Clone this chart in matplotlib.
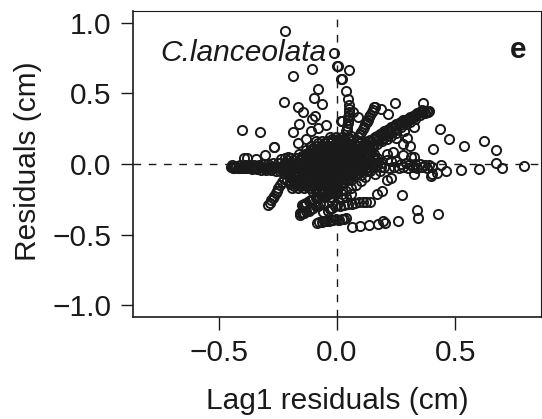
import matplotlib
matplotlib.use("Agg")
import matplotlib.pyplot as plt

plt.rcParams['font.family'] = ['Liberation Sans', 'DejaVu Sans']

# (lag1 residual, residual), one list per visible cluster
upper_left = [(-.218,.944),(-.014,.786),(.001,.692),(.015,.60),(-.105,.671),(-.186,.62),(-.081,.533),(-.098,.47),
    (-.062,.423),(-.223,.441),(-.167,.404),(-.145,.368),(-.091,.34),(-.106,.317),(-.162,.282),(-.188,.228),
    (-.046,.275),(-.079,.258),(-.11,.235),(-.4,.239),(-.324,.228),(-.268,.122),(-.268,.118),(-.304,.063),
    (-.163,.146),(-.13,.174),(-.395,.044),(-.382,.044),(-.342,.033),(-.238,.035),(-.206,.051),(.015,.305)]
upper_right = [(.051,.667),(.006,.695),(.021,.599),(.037,.519),(.045,.46),(.052,.415),(.069,.368),(.09,.331),
    (.019,.305),(.16,.404),(.186,.392),(.217,.354),(.247,.434),(.362,.434),(.39,.373),(.385,.37),(.436,.244),
    (.474,.174),(.536,.125),(.623,.164),(.673,.101),(.407,.103),(.308,.125),(.297,.183),(.278,.14),(.327,.263),
    (.284,.232),(.249,.185),(.238,.087),(.21,.07),(.28,.063),(.327,.051),(.312,.051)]
lower_right = [(.79,-.014),(.696,-.028),(.67,.005),(.601,-.035),(.522,-.045),(.462,-.049),(.439,-.005),(.424,-.061),
    (.397,-.085),(.403,-.07),(.324,-.07),(.275,-.218),(.188,-.19),(.167,-.211),(.141,-.268),(.213,-.113),
    (.228,-.099),(.337,-.326),(.342,-.382),(.426,-.357),(.258,-.401),(.203,-.415),(.196,-.401),(.172,-.423),
    (.134,-.432),(.097,-.437),(.065,-.444),(.04,-.385),(.03,-.388),(.02,-.39),(.007,-.393),(.122,-.27),
    (.11,-.272),(.093,-.272),(.076,-.275),(.062,-.28),(.047,-.285),(.03,-.29),(.014,-.295)]
main_diagonal = [(.12,.15),(.13,.12),(.14,.17),(.15,.14),(.16,.19),(.17,.16),(.18,.21),(.19,.18),(.2,.23),(.21,.2),
    (.22,.25),(.23,.22),(.24,.27),(.25,.24),(.26,.29),(.27,.26),(.28,.31),(.29,.28),(.3,.32),(.31,.3),(.32,.34),
    (.33,.32),(.34,.36),(.35,.35),(.36,.38),(.37,.36),(.38,.37),(.125,.135),(.145,.155),(.165,.175),(.185,.195),
    (.205,.215),(.225,.235),(.245,.255),(.265,.275),(.285,.295),(.305,.31),(.325,.33),(.345,.35),(.365,.37),
    (.13,.16),(.15,.18),(.17,.2),(.19,.22),(.21,.24),(.23,.26),(.25,.28),(.27,.3),(.29,.31),(.31,.33),(.33,.35),
    (.35,.37),(.15,.12),(.17,.14),(.19,.16),(.21,.18),(.23,.2),(.25,.22)]
left_band = [(-.45,-.02),(-.44,-.03),(-.43,-.015),(-.42,-.03),(-.41,-.01),(-.4,-.03),(-.39,-.01),(-.38,-.03),
    (-.37,-.005),(-.36,-.035),(-.35,-.005),(-.34,-.035),(-.33,-.005),(-.32,-.04),(-.31,.0),(-.3,-.04),(-.29,.0),
    (-.28,-.045),(-.27,.005),(-.26,-.05),(-.25,.005),(-.24,-.05),(-.445,-.01),(-.435,-.025),(-.425,-.02),
    (-.415,-.025),(-.405,-.02),(-.395,-.025),(-.385,-.02),(-.375,-.02),(-.365,-.025),(-.355,-.02),(-.345,-.02),
    (-.335,-.025),(-.325,-.02),(-.315,-.02),(-.305,-.025),(-.295,-.02),(-.285,-.02),(-.275,-.025),(-.265,-.02),
    (-.255,-.02),(-.245,-.025)]
core_top = [(-.03,.19),(-.005,.19),(.02,.19),(.045,.19),(.06,.2),(-.09,.16),(-.065,.16),(-.04,.16),(-.015,.16),
    (.01,.16),(.035,.16),(.06,.16),(.085,.16),(-.11,.13),(-.085,.13),(-.06,.13),(-.035,.13),(-.01,.13),(.015,.13),
    (.04,.13),(.065,.13),(.09,.13),(.115,.13),(-.13,.10),(-.105,.10),(-.08,.10),(-.055,.10),(-.03,.10),(-.005,.10),
    (.02,.10),(.045,.10),(.07,.10),(.095,.10),(.12,.10),(.14,.10),(-.16,.07),(-.135,.07),(-.11,.07),(-.085,.07),
    (-.06,.07),(-.035,.07),(-.01,.07),(.015,.07),(.04,.07),(.065,.07),(.09,.07),(.115,.07),(.14,.07),(.155,.07)]
core_middle = [(-.22,.04),(-.195,.04),(-.17,.04),(-.145,.04),(-.12,.04),(-.095,.04),(-.07,.04),(-.045,.04),(-.02,.04),
    (.005,.04),(.03,.04),(.055,.04),(.08,.04),(.105,.04),(.13,.04),(.155,.04),(.17,.04),(-.24,.01),(-.215,.01),
    (-.19,.01),(-.165,.01),(-.14,.01),(-.115,.01),(-.09,.01),(-.065,.01),(-.04,.01),(-.015,.01),(.01,.01),(.035,.01),
    (.06,.01),(.085,.01),(.11,.01),(.135,.01),(.16,.01),(.185,.01),(-.24,-.02),(-.215,-.02),(-.19,-.02),(-.165,-.02),
    (-.14,-.02),(-.115,-.02),(-.09,-.02),(-.065,-.02),(-.04,-.02),(-.015,-.02),(.01,-.02),(.035,-.02),(.06,-.02),
    (.085,-.02),(.11,-.02),(.135,-.02),(.16,-.02),(.185,-.02),(.2,-.02),(-.22,-.05),(-.195,-.05),(-.17,-.05),
    (-.145,-.05),(-.12,-.05),(-.095,-.05),(-.07,-.05),(-.045,-.05),(-.02,-.05),(.005,-.05),(.03,-.05),(.055,-.05),
    (.08,-.05),(.105,-.05),(.13,-.05),(.14,-.05)]
core_bottom = [(-.2,-.08),(-.175,-.08),(-.15,-.08),(-.125,-.08),(-.1,-.08),(-.075,-.08),(-.05,-.08),(-.025,-.08),(0,-.08),
    (.025,-.08),(.05,-.08),(.075,-.08),(.1,-.08),(-.21,-.11),(-.185,-.11),(-.16,-.11),(-.135,-.11),(-.11,-.11),
    (-.085,-.11),(-.06,-.11),(-.035,-.11),(-.01,-.11),(.015,-.11),(.04,-.11),(.06,-.11),(-.2,-.14),(-.175,-.14),
    (-.15,-.14),(-.125,-.14),(-.1,-.14),(-.075,-.14),(-.05,-.14),(-.025,-.14),(0,-.14),(.025,-.14),(-.19,-.17),
    (-.165,-.17),(-.14,-.17),(-.115,-.17),(-.09,-.17),(-.065,-.17),(-.04,-.17),(-.015,-.17),(0,-.17),(-.1,-.2),
    (-.075,-.2),(-.05,-.2),(-.025,-.2),(0,-.2),(-.08,-.23),(-.055,-.23),(-.03,-.23),(-.02,-.23)]
core_fill_top = [(-.02,.175),(.005,.175),(.03,.175),(.055,.175),(-.08,.145),(-.055,.145),(-.03,.145),(-.005,.145),
    (.02,.145),(.045,.145),(.07,.145),(.095,.145),(-.1,.115),(-.075,.115),(-.05,.115),(-.025,.115),(0,.115),
    (.025,.115),(.05,.115),(.075,.115),(.1,.115),(.125,.115),(-.12,.085),(-.095,.085),(-.07,.085),(-.045,.085),
    (-.02,.085),(.005,.085),(.03,.085),(.055,.085),(.08,.085),(.105,.085),(.13,.085),(-.15,.055),(-.125,.055),
    (-.1,.055),(-.075,.055),(-.05,.055),(-.025,.055),(0,.055),(.025,.055),(.05,.055),(.075,.055),(.1,.055),
    (.125,.055),(.15,.055),(-.21,.025),(-.185,.025),(-.16,.025),(-.135,.025),(-.11,.025),(-.085,.025),(-.06,.025),
    (-.035,.025),(-.01,.025),(.015,.025),(.04,.025),(.065,.025),(.09,.025),(.115,.025),(.14,.025),(.165,.025)]
core_fill_low = [(-.23,-.005),(-.205,-.005),(-.18,-.005),(-.155,-.005),(-.13,-.005),(-.105,-.005),(-.08,-.005),
    (-.055,-.005),(-.03,-.005),(-.005,-.005),(.02,-.005),(.045,-.005),(.07,-.005),(.095,-.005),(.12,-.005),
    (.145,-.005),(.17,-.005),(-.23,-.035),(-.205,-.035),(-.18,-.035),(-.155,-.035),(-.13,-.035),(-.105,-.035),
    (-.08,-.035),(-.055,-.035),(-.03,-.035),(-.005,-.035),(.02,-.035),(.045,-.035),(.07,-.035),(.095,-.035),
    (.12,-.035),(-.21,-.065),(-.185,-.065),(-.16,-.065),(-.135,-.065),(-.11,-.065),(-.085,-.065),(-.06,-.065),
    (-.035,-.065),(-.01,-.065),(.015,-.065),(.04,-.065),(.065,-.065),(.09,-.065),(-.195,-.095),(-.17,-.095),
    (-.145,-.095),(-.12,-.095),(-.095,-.095),(-.07,-.095),(-.045,-.095),(-.02,-.095),(.005,-.095),(.03,-.095),
    (.05,-.095),(-.2,-.125),(-.175,-.125),(-.15,-.125),(-.125,-.125),(-.1,-.125),(-.075,-.125),(-.05,-.125),
    (-.025,-.125),(0,-.125),(.02,-.125),(-.18,-.155),(-.155,-.155),(-.13,-.155),(-.105,-.155),(-.08,-.155),
    (-.055,-.155),(-.03,-.155),(-.005,-.155),(-.09,-.185),(-.065,-.185),(-.04,-.185),(-.015,-.185),(-.06,-.215),
    (-.035,-.215),(-.01,-.215)]
right_band = [(.21,.03),(.22,-.03),(.23,.02),(.24,-.02),(.25,.02),(.26,-.03),(.27,.0),(.28,-.02),(.29,.01),(.3,-.03),
    (.31,.0),(.32,-.02),(.33,.0),(.34,-.03),(.35,.0),(.36,-.02),(.37,-.01),(.38,-.03),(.39,-.01),(.4,-.02),
    (.16,-.07),(.18,-.05),(.12,-.09),(.1,-.12),(.08,-.15),(.06,-.17),(.04,-.19),(.02,-.21)]
strand_up_a = [(.04,.23),(.042,.25),(.044,.27),(.045,.29),(.046,.31),(.048,.33),(.05,.35),(.05,.37),(.052,.39)]
strand_up_b = [(.103,.228),(.108,.245),(.114,.26),(.12,.28),(.125,.295),(.13,.31),(.136,.33),(.14,.35),(.147,.365),
    (.152,.385),(.158,.404),(.09,.19),(.095,.21)]
strand_lower_left = [(-.29,-.289),(-.284,-.275),(-.278,-.255),(-.272,-.24),(-.266,-.225),(-.26,-.205),(-.254,-.19),
    (-.248,-.17),(-.24,-.15),(-.234,-.13),(-.226,-.105)]
strand_lower_mid = [(-.156,-.36),(-.15,-.35),(-.14,-.345),(-.13,-.335),(-.12,-.33),(-.11,-.32),(-.1,-.31),
    (-.09,-.3),(-.08,-.295),(-.07,-.285),(-.06,-.28),(-.15,-.29),(-.14,-.285),(-.13,-.275),(-.12,-.265),
    (-.11,-.255),(-.1,-.245),(-.09,-.24),(-.08,-.23),(-.04,-.33),(-.03,-.32),(-.02,-.31),(-.01,-.3),(0,-.29),
    (-.06,-.34),(.02,-.24),(.04,-.23),(.06,-.21),(-.155,-.35),(-.145,-.345),(-.145,-.3),(-.135,-.29)]
strand_lower = [(-.086,-.415),(-.075,-.41),(-.065,-.41),(-.055,-.405),(-.045,-.405),(-.035,-.4),(-.025,-.395),
    (-.015,-.395),(-.005,-.39)]

x_ticks = [-0.5, 0.0, 0.5]
y_ticks = [-1.0, -0.5, 0.0, 0.5, 1.0]

clusters = [upper_left, upper_right, lower_right, main_diagonal, left_band, core_top, core_middle, core_bottom,
            core_fill_top, core_fill_low, right_band, strand_up_a, strand_up_b, strand_lower_left,
            strand_lower_mid, strand_lower]
xs = [p[0] for c in clusters for p in c]
ys = [p[1] for c in clusters for p in c]

ink = "#1a1a1a"
fig = plt.figure(figsize=(5.42, 4.19), dpi=100)
ax = fig.add_axes([132.7 / 542, 1 - 316.7 / 419, (541 - 132.7) / 542, (316.7 - 11) / 419])

ax.axhline(0, color=ink, lw=1.0, dashes=(5.5, 5.5), zorder=1)
ax.axvline(0, color=ink, lw=1.0, dashes=(5.5, 5.5), zorder=1)
ax.plot(xs, ys, linestyle="none", marker="o", mfc="none", mec=ink, ms=6.6, mew=1.4, zorder=2)

ax.set_xlim(-0.8635, 0.862)
ax.set_ylim(-1.08, 1.082)
ax.set_xticks(x_ticks)
ax.set_yticks(y_ticks)
ax.set_xticklabels(["\u22120.5", "0.0", "0.5"])
ax.set_yticklabels(["\u22121.0", "\u22120.5", "0.0", "0.5", "1.0"])
ax.tick_params(length=9, width=1.0, color=ink, labelcolor=ink, labelsize=21.5, pad=6.5)
ax.tick_params(axis="x", pad=7)
for name, s in ax.spines.items():
    s.set_linewidth(1.2 if name in ("left", "bottom") else 0.8)
    s.set_color(ink)

ax.set_xlabel("Lag1 residuals (cm)", fontsize=21.5, color=ink, labelpad=14.5)
ax.set_ylabel("Residuals (cm)", fontsize=21.5, color=ink)
ax.yaxis.set_label_coords(-0.222, 0.508)

ax.text(-0.745, 0.725, "C.lanceolata", style="italic", fontsize=21.5, color=ink)
ax.text(0.731, 0.75, "e", fontweight="bold", fontsize=21.5, color=ink)

fig.savefig("out.png", dpi=100)
